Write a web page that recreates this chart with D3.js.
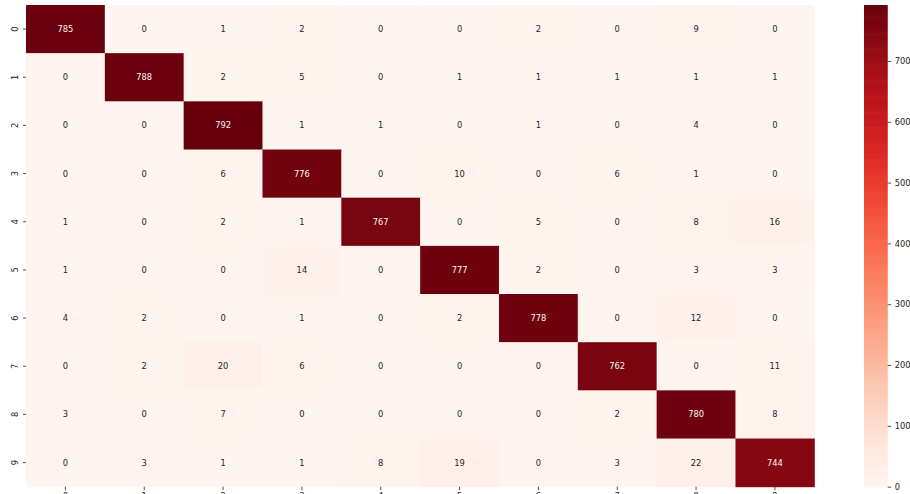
<!DOCTYPE html>
<html>
<head>
<meta charset="utf-8">
<script src="https://cdn.jsdelivr.net/npm/d3@7"></script>
<style>
  html, body { margin: 0; padding: 0; background: #fff; }
  svg { display: block; }
  text { font-family: "DejaVu Sans", sans-serif; }
</style>
</head>
<body>
<svg id="chart" width="910" height="494"></svg>
<script>
const rowLabels = ["0","1","2","3","4","5","6","7","8","9"];
const colLabels = ["0","1","2","3","4","5","6","7","8","9"];
const matrix = [
  [785,0,1,2,0,0,2,0,9,0],
  [0,788,2,5,0,1,1,1,1,1],
  [0,0,792,1,1,0,1,0,4,0],
  [0,0,6,776,0,10,0,6,1,0],
  [1,0,2,1,767,0,5,0,8,16],
  [1,0,0,14,0,777,2,0,3,3],
  [4,2,0,1,0,2,778,0,12,0],
  [0,2,20,6,0,0,0,762,0,11],
  [3,0,7,0,0,0,0,2,780,8],
  [0,3,1,1,8,19,0,3,22,744]
];
const colorbarTicks = [0,100,200,300,400,500,600,700];

const FS = 8.3;
const svg = d3.select("#chart");
const mLeft = 26, mRight = 814.3, mTop = 5, mBottom = 486.7;

const x = d3.scaleBand().domain(colLabels).range([mLeft, mRight]).padding(0);
const y = d3.scaleBand().domain(rowLabels).range([mTop, mBottom]).padding(0);
const vmax = d3.max(matrix.flat());
const color = d3.scaleSequential(d3.interpolateReds).domain([0, vmax]);

const cells = [];
matrix.forEach((row, i) => row.forEach((v, j) => cells.push({r: rowLabels[i], c: colLabels[j], v})));

svg.append("g").selectAll("rect").data(cells).join("rect")
  .attr("x", d => x(d.c))
  .attr("y", d => y(d.r))
  .attr("width", x.bandwidth() + 0.5)
  .attr("height", y.bandwidth() + 0.5)
  .attr("fill", d => color(d.v));

function lum(c) {
  const rgb = d3.rgb(c);
  const f = v => { v /= 255; return v <= 0.03928 ? v / 12.92 : Math.pow((v + 0.055) / 1.055, 2.4); };
  return 0.2126 * f(rgb.r) + 0.7152 * f(rgb.g) + 0.0722 * f(rgb.b);
}

svg.append("g").selectAll("text").data(cells).join("text")
  .attr("x", d => x(d.c) + x.bandwidth() / 2)
  .attr("y", d => y(d.r) + y.bandwidth() / 2)
  .attr("text-anchor", "middle")
  .attr("dominant-baseline", "central")
  .attr("font-size", FS)
  .attr("fill", d => lum(color(d.v)) > 0.408 ? "#262626" : "#f5f5f5")
  .text(d => d.v);

// Y axis
const yAxis = d3.axisLeft(y).tickSize(3).tickPadding(4);
const gy = svg.append("g").attr("transform", `translate(${mLeft},0)`).call(yAxis);
gy.select(".domain").remove();
gy.selectAll(".tick line").attr("stroke", "#262626").attr("stroke-width", 0.8);
gy.selectAll(".tick text")
  .attr("font-size", FS)
  .attr("fill", "#262626")
  .attr("font-family", "DejaVu Sans, sans-serif")
  .attr("text-anchor", "middle")
  .attr("dy", null)
  .attr("x", null)
  .attr("transform", "translate(-11.5,0) rotate(-90)")
  .attr("dominant-baseline", "central");

// X axis (labels fall mostly below the visible area, as in the reference)
const xAxis = d3.axisBottom(x).tickSize(3.5).tickPadding(2.5);
const gx = svg.append("g").attr("transform", `translate(0,${mBottom})`).call(xAxis);
gx.select(".domain").remove();
gx.selectAll(".tick line").attr("stroke", "#262626").attr("stroke-width", 0.8);
gx.selectAll(".tick text").attr("font-size", FS).attr("fill", "#262626")
  .attr("font-family", "DejaVu Sans, sans-serif");

// Colorbar
const cbX = 864, cbW = 23.7;
const cbScale = d3.scaleLinear().domain([0, vmax]).range([mBottom, mTop]);
const steps = d3.range(0, 256);
svg.append("g").selectAll("rect").data(steps).join("rect")
  .attr("x", cbX)
  .attr("width", cbW)
  .attr("y", s => cbScale(vmax * (s + 1) / 256))
  .attr("height", s => cbScale(vmax * s / 256) - cbScale(vmax * (s + 1) / 256) + 0.6)
  .attr("fill", s => color(vmax * (s + 0.5) / 256));

const cbAxis = d3.axisRight(cbScale).tickValues(colorbarTicks).tickSize(3.5).tickPadding(3.5);
const gc = svg.append("g").attr("transform", `translate(${cbX + cbW},0)`).call(cbAxis);
gc.select(".domain").remove();
gc.selectAll(".tick line").attr("stroke", "#262626").attr("stroke-width", 0.8);
gc.selectAll(".tick text").attr("font-size", FS).attr("fill", "#262626")
  .attr("font-family", "DejaVu Sans, sans-serif");
</script>
</body>
</html>
